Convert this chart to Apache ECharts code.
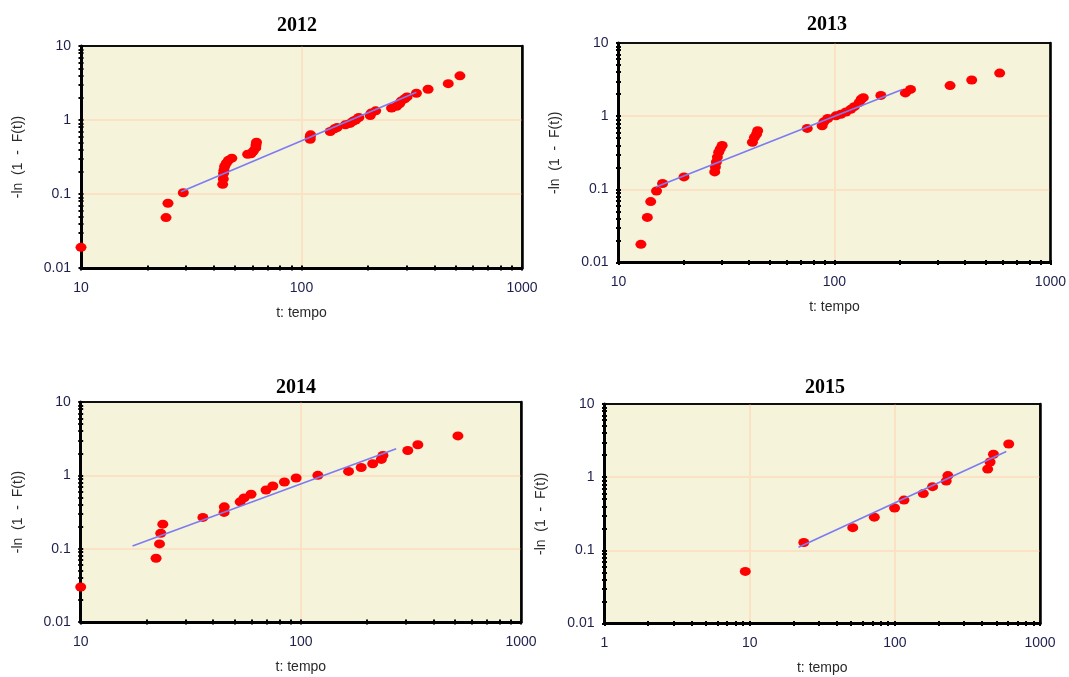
<!DOCTYPE html>
<html><head><meta charset="utf-8">
<script src="https://cdn.jsdelivr.net/npm/echarts@6/dist/echarts.min.js"></script>
<style>html,body{margin:0;padding:0;background:#fff}#c{width:1069px;height:677px}</style>
</head><body><div id="c"></div>
<script>
// ---------- data ----------
const years = ['2012', '2013', '2014', '2015'];

const t2012 = [10, 24.3, 24.8, 29.1, 43.9, 44.2, 44.3, 44.5, 44.8, 45.6, 46.6, 48.3,
  57, 59, 60.5, 62, 62.2, 62.5, 109.5, 109.5, 110, 135, 141, 145, 158, 166, 171, 176, 182,
  205, 207, 217, 256, 270, 278, 283, 294, 301, 332, 375, 463, 523];
const y2012 = [0.019, 0.048, 0.075, 0.104, 0.135, 0.16, 0.19, 0.21, 0.235, 0.26, 0.285, 0.305,
  0.345, 0.35, 0.38, 0.42, 0.46, 0.5, 0.55, 0.59, 0.63, 0.70, 0.76, 0.79, 0.86, 0.90, 0.96, 1.0, 1.08,
  1.15, 1.24, 1.33, 1.45, 1.53, 1.65, 1.8, 1.94, 2.05, 2.3, 2.6, 3.1, 3.95];

const t2013 = [12.7, 13.6, 14.1, 15.0, 16.0, 20.1, 27.9, 28.1, 28.4, 28.7, 29.1, 29.6, 30.2,
  41.7, 42.6, 43.6, 44.1, 74.8, 87.7, 89.3, 93.1, 101.6, 107, 113, 119, 123.5, 130, 133, 136,
  164, 213, 225, 343, 432, 582];
const y2013 = [0.0177, 0.0413, 0.068, 0.095, 0.12, 0.148, 0.173, 0.202, 0.236, 0.276, 0.322, 0.358, 0.397,
  0.44, 0.514, 0.571, 0.633, 0.68, 0.74, 0.837, 0.93, 1.01, 1.06, 1.14, 1.24, 1.35, 1.53, 1.70, 1.79,
  1.92, 2.08, 2.32, 2.62, 3.12, 3.88];

const t2014 = [10, 22.0, 22.8, 23.1, 23.6, 35.9, 44.8, 44.9, 53.0, 55.2, 59.4, 69.5, 74.6, 84.2,
  95.2, 119.5, 164.7, 188, 212, 232, 236, 306, 340, 517];
const y2014 = [0.030, 0.074, 0.116, 0.162, 0.216, 0.267, 0.312, 0.372, 0.435, 0.492, 0.552, 0.632, 0.716, 0.811,
  0.92, 1.0, 1.13, 1.28, 1.44, 1.65, 1.87, 2.18, 2.61, 3.45];

const t2015 = [9.33, 23.6, 51.3, 72.2, 99.6, 115.6, 157, 182, 226, 232, 436, 453, 478, 609];
const y2015 = [0.0515, 0.128, 0.204, 0.284, 0.379, 0.486, 0.597, 0.741, 0.883, 1.05, 1.29, 1.61, 2.06, 2.84];

// fitted lines (end points)
const fitT2012 = [28.4, 332];  const fitY2012 = [0.107, 2.37];
const fitT2013 = [14.9, 206];  const fitY2013 = [0.108, 2.32];
const fitT2014 = [17.2, 271];  const fitY2014 = [0.109, 2.30];
const fitT2015 = [21.7, 586];  const fitY2015 = [0.11, 2.24];

// axis ranges / tick labels
const yRange = [0.01, 10];
const xRange = [10, 1000];
const xRange2015 = [1, 1000];
const yTickLabels = ['0.01', '0.1', '1', '10'];
const xTickLabels = ['10', '100', '1000'];
const xTickLabels2015 = ['1', '10', '100', '1000'];
const minorSteps = [1, 2, 3, 4, 5, 6, 7, 8, 9];

const yTitle = '-ln  (1  -  F(t))';
const xTitle = 't: tempo';

// ---------- layout ----------
const panels = [
  { t: t2012, y: y2012, ft: fitT2012, fy: fitY2012, xr: xRange, xl: xTickLabels,
    grid: { left: 81, top: 46, width: 441, height: 222 }, title: [292, 11] },
  { t: t2013, y: y2013, ft: fitT2013, fy: fitY2013, xr: xRange, xl: xTickLabels,
    grid: { left: 618.5, top: 43, width: 434, height: 219.5 }, title: [822, 10] },
  { t: t2014, y: y2014, ft: fitT2014, fy: fitY2014, xr: xRange, xl: xTickLabels,
    grid: { left: 80.7, top: 402, width: 440.3, height: 220 }, title: [291, 373] },
  { t: t2015, y: y2015, ft: fitT2015, fy: fitY2015, xr: xRange2015, xl: xTickLabels2015,
    grid: { left: 604.5, top: 404, width: 435.5, height: 219.5 }, title: [820, 373] }
];

function logTicks(lo, hi) {
  const out = [];
  for (let d = lo; d < hi * 0.999; d *= 10) {
    minorSteps.forEach(m => out.push(+(m * d).toPrecision(6)));
  }
  out.push(hi);
  return out;
}
function fmt(v) { return String(+(+v).toPrecision(6)); }

const LABEL_COLOR = '#1d1f4d';
const NAME_COLOR = '#2a2a2a';
const SANS = '"Liberation Sans", Arial, sans-serif';
const GRIDLINE = { show: true, showMinLine: false, showMaxLine: false, lineStyle: { color: '#FBE2C5', width: 2 } };

const grid = [], xAxis = [], yAxis = [], series = [], title = [];

panels.forEach((p, i) => {
  grid.push(Object.assign({ show: true, backgroundColor: '#F5F3DA', borderColor: '#000', borderWidth: 1.5 }, p.grid));
  title.push({
    text: years[i], left: p.title[0], top: p.title[1], textAlign: 'center',
    textStyle: { fontFamily: '"Liberation Serif", "Times New Roman", serif', fontWeight: 'bold', fontSize: 20, color: '#000' }
  });
});

// main axes (indices 0..3)
panels.forEach((p, i) => {
  xAxis.push({
    type: 'log', logBase: 10, gridIndex: i, min: p.xr[0], max: p.xr[1], position: 'bottom',
    axisLine: { show: true, lineStyle: { color: '#000', width: 3 } },
    axisTick: { show: false },
    axisLabel: { color: LABEL_COLOR, fontSize: 14, fontFamily: SANS, margin: 13, formatter: fmt,
                 customValues: p.xl.map(Number) },
    splitLine: GRIDLINE,
    name: xTitle, nameLocation: 'middle', nameGap: 38,
    nameTextStyle: { color: NAME_COLOR, fontSize: 14, fontFamily: SANS }
  });
  yAxis.push({
    type: 'log', logBase: 10, gridIndex: i, min: yRange[0], max: yRange[1], position: 'left',
    axisLine: { show: true, lineStyle: { color: '#000', width: 3 } },
    axisTick: { show: false },
    axisLabel: { color: LABEL_COLOR, fontSize: 14, fontFamily: SANS, margin: 10, formatter: fmt,
                 customValues: yTickLabels.map(Number) },
    splitLine: GRIDLINE,
    name: yTitle, nameLocation: 'middle', nameGap: 56, nameRotate: 90,
    nameTextStyle: { color: NAME_COLOR, fontSize: 14, fontFamily: SANS }
  });
});
// minor-tick axes (indices 4..7), cross-shaped ticks
panels.forEach((p, i) => {
  xAxis.push({
    type: 'log', logBase: 10, gridIndex: i, min: p.xr[0], max: p.xr[1], position: 'bottom', offset: 2.5,
    axisLine: { show: false },
    axisTick: { show: true, inside: true, length: 5, lineStyle: { color: '#000', width: 2 },
                customValues: logTicks(p.xr[0], p.xr[1]) },
    axisLabel: { show: false }, splitLine: { show: false }
  });
  yAxis.push({
    type: 'log', logBase: 10, gridIndex: i, min: yRange[0], max: yRange[1], position: 'left', offset: 2.5,
    axisLine: { show: false },
    axisTick: { show: true, inside: true, length: 5, lineStyle: { color: '#000', width: 2 },
                customValues: logTicks(yRange[0], yRange[1]) },
    axisLabel: { show: false }, splitLine: { show: false }
  });
});
// frame axes (indices 8..11): thin top edge, heavier right edge
panels.forEach((p, i) => {
  xAxis.push({
    type: 'log', logBase: 10, gridIndex: i, min: p.xr[0], max: p.xr[1], position: 'top',
    axisLine: { show: true, lineStyle: { color: '#000', width: 1.5 } },
    axisTick: { show: false }, axisLabel: { show: false }, splitLine: { show: false }
  });
  yAxis.push({
    type: 'log', logBase: 10, gridIndex: i, min: yRange[0], max: yRange[1], position: 'right',
    axisLine: { show: true, lineStyle: { color: '#000', width: 2.5 } },
    axisTick: { show: false }, axisLabel: { show: false }, splitLine: { show: false }
  });
});

panels.forEach((p, i) => {
  series.push({
    type: 'scatter', xAxisIndex: i, yAxisIndex: i,
    data: p.t.map((v, k) => [v, p.y[k]]),
    symbol: 'circle', symbolSize: [11, 9],
    itemStyle: { color: '#FF0000', opacity: 1 }, z: 3, clip: false
  });
  series.push({
    type: 'line', xAxisIndex: i, yAxisIndex: i,
    data: p.ft.map((v, k) => [v, p.fy[k]]),
    showSymbol: false, symbol: 'none',
    lineStyle: { color: '#7B7BF2', width: 1.6 }, z: 4
  });
});

const chart = echarts.init(document.getElementById('c'), null, { renderer: 'canvas' });
chart.setOption({ animation: false, backgroundColor: '#fff', title, grid, xAxis, yAxis, series });
</script>
</body></html>
